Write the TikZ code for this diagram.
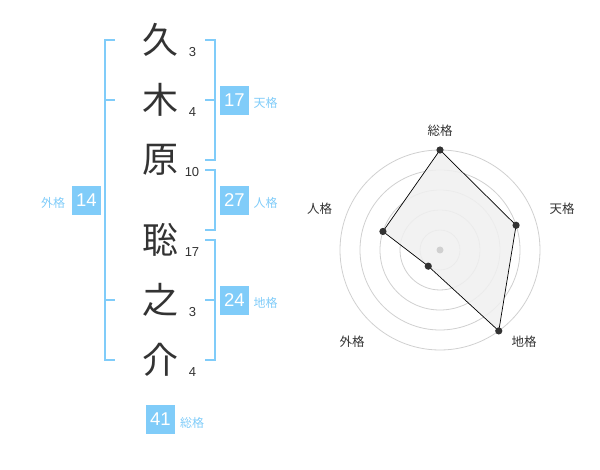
\documentclass[tikz,border=0pt]{standalone}
\usepackage{fontspec}
\setmainfont{Liberation Sans}
\newfontfamily\cjk{Noto Sans CJK JP}
\definecolor{kblue}{RGB}{128,204,249}
\definecolor{ktext}{RGB}{51,51,51}
\definecolor{kring}{RGB}{208,208,208}
\definecolor{kfill}{RGB}{240,240,240}
\tikzset{
  kanji/.style={font=\cjk\fontsize{36}{36}\selectfont, text=ktext, inner sep=0pt},
  stroke/.style={font=\fontsize{13}{13}\selectfont, text=ktext, inner sep=0pt},
  kaku/.style={fill=kblue, text=white, font=\fontsize{18.5}{18.5}\selectfont, minimum width=29pt, minimum height=29pt, inner sep=0pt},
  kakulabel/.style={font=\cjk\fontsize{12}{12}\selectfont, text=kblue, inner sep=0pt},
  brk/.style={draw=kblue, line width=2pt, line join=miter},
  ring/.style={draw=kring, line width=0.8pt},
  axlabel/.style={font=\cjk\fontsize{12.5}{12.5}\selectfont, text=ktext, inner sep=0pt},
  dot/.style={fill=ktext},
}
\begin{document}
\begin{tikzpicture}[x=1pt,y=-1pt]
\useasboundingbox (0,0) rectangle (600,470);
% name characters
\node[kanji] (c1) at (160,40) {久};
\node[kanji] (c2) at (160,100) {木};
\node[kanji] (c3) at (160,160) {原};
\node[kanji] (c4) at (160,240) {聡};
\node[kanji] (c5) at (160,300) {之};
\node[kanji] (c6) at (160,360) {介};
% stroke counts
\node[stroke] (s1) at (192.5,52.5) {3};
\node[stroke] (s2) at (192.5,112.5) {4};
\node[stroke] (s3) at (192,172.5) {10};
\node[stroke] (s4) at (192,252.5) {17};
\node[stroke] (s5) at (192.5,312.5) {3};
\node[stroke] (s6) at (192.5,372.5) {4};
% brackets
\draw[brk] (115,40) -- (105,40) -- (105,360) -- (115,360);
\draw[brk] (105,100) -- (115,100);
\draw[brk] (105,300) -- (115,300);
\draw[brk] (205,40) -- (215,40) -- (215,160) -- (205,160);
\draw[brk] (205,100) -- (215,100);
\draw[brk] (205,170) -- (215,170) -- (215,230) -- (205,230);
\draw[brk] (205,240) -- (215,240) -- (215,360) -- (205,360);
\draw[brk] (205,300) -- (215,300);
% kaku boxes
\node[kaku] (ten) at (234.5,100.5) {17};
\node[kakulabel] (tenl) at (265.5,103) {天格};
\node[kaku] (jin) at (234.5,200.5) {27};
\node[kakulabel] (jinl) at (265.5,203) {人格};
\node[kaku] (chi) at (234.5,300.5) {24};
\node[kakulabel] (chil) at (265.5,303) {地格};
\node[kaku] (gai) at (86.5,200.5) {14};
\node[kakulabel] (gail) at (53,203) {外格};
\node[kaku] (sou) at (160.5,419.5) {41};
\node[kakulabel] (soul) at (192,423) {総格};
% radar chart
\begin{scope}[shift={(440,250)}, yscale=-1]
  \foreach \r in {20,40,60,80,100} \draw[ring] (0,0) circle (\r);
  \coordinate (p1) at (90:100);
  \coordinate (p2) at (18:80);
  \coordinate (p3) at (-54:100);
  \coordinate (p4) at (-126:20);
  \coordinate (p5) at (162:60);
  \filldraw[fill=kfill, fill opacity=0.85, draw=black, line width=0.7pt] (p1) -- (p2) -- (p3) -- (p4) -- (p5) -- cycle;
  \fill[kring] (0,0) circle (3.5);
  \foreach \p in {p1,p2,p3,p4,p5} \fill[dot] (\p) circle (3.6);
\end{scope}
\node[axlabel] (l1) at (440,130.5) {総格};
\node[axlabel] (l2) at (562,208.5) {天格};
\node[axlabel] (l3) at (524,342) {地格};
\node[axlabel] (l4) at (352,342) {外格};
\node[axlabel] (l5) at (319.5,209) {人格};
\end{tikzpicture}
\end{document}
